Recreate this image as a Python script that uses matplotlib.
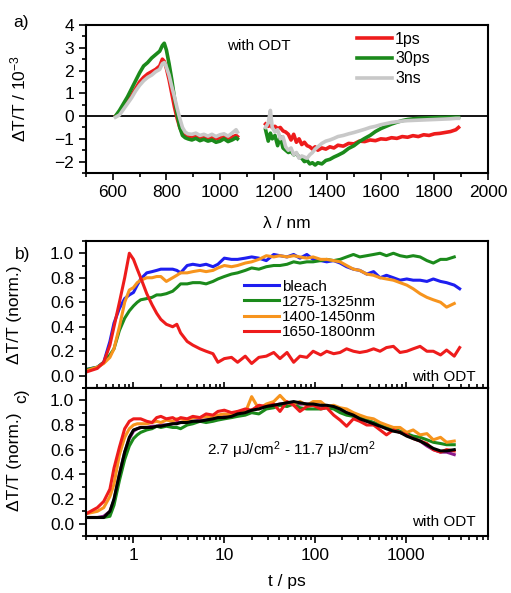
import matplotlib
matplotlib.use("Agg")
import matplotlib.pyplot as plt
from matplotlib.ticker import MultipleLocator, LogLocator, NullFormatter, FixedLocator
import numpy as np

plt.rcParams['font.family'] = ['Liberation Sans', 'DejaVu Sans']
plt.rcParams['mathtext.fontset'] = 'custom'
plt.rcParams['mathtext.rm'] = 'Liberation Sans'
plt.rcParams['mathtext.it'] = 'Liberation Sans:italic'

# ---- panel a: spectra (dT/T in 1e-3) ----
lam_vis = [610, 625, 640, 655, 670, 685, 700, 715, 730, 745, 760, 775, 785, 792, 800, 810, 820,
           830, 840, 850, 860, 870, 880, 895, 910, 925, 940, 955, 970, 985, 1000, 1015, 1030,
           1045, 1060, 1065]
vis_1ps = [0.0, 0.15, 0.4, 0.65, 0.9, 1.2, 1.5, 1.7, 1.85, 1.95, 2.05, 2.2, 2.5, 2.4, 2.1, 1.6, 1.0,
           0.4, -0.1, -0.5, -0.75, -0.85, -0.9, -0.95, -0.88, -0.95, -0.9, -0.98, -0.92, -1.0, -0.95,
           -0.9, -1.0, -0.92, -0.85, -0.9]
vis_30ps = [0.0, 0.25, 0.55, 0.85, 1.2, 1.55, 1.9, 2.2, 2.35, 2.55, 2.7, 2.85, 3.1, 3.2, 2.9, 2.3, 1.6,
            0.8, 0.1, -0.5, -0.85, -0.95, -1.0, -1.05, -0.98, -1.08, -1.02, -1.1, -1.05, -1.15, -1.1,
            -1.0, -1.12, -1.05, -0.95, -1.0]
vis_3ns = [-0.05, 0.05, 0.3, 0.55, 0.8, 1.1, 1.35, 1.55, 1.7, 1.8, 1.95, 2.05, 2.3, 2.35, 2.15, 1.8, 1.3,
           0.85, 0.35, -0.1, -0.5, -0.7, -0.78, -0.8, -0.75, -0.85, -0.8, -0.88, -0.8, -0.9, -0.82,
           -0.78, -0.88, -0.75, -0.6, -0.7]

lam_ir = [1170, 1180, 1188, 1195, 1205, 1215, 1225, 1235, 1245, 1255, 1265, 1275, 1285, 1295, 1305,
          1315, 1325, 1335, 1345, 1355, 1365, 1380, 1395, 1410, 1425, 1440, 1460, 1480, 1500, 1520,
          1540, 1560, 1580, 1600, 1620, 1640, 1660, 1680, 1700, 1720, 1740, 1760, 1780, 1800, 1820,
          1840, 1860, 1880, 1890]
ir_1ps = [-0.35, -0.45, -0.4, -0.5, -0.45, -0.55, -0.5, -0.65, -0.7, -0.8, -1.05, -0.8, -1.15, -1.0,
          -1.25, -1.15, -1.3, -1.35, -1.45, -1.35, -1.5, -1.4, -1.45, -1.35, -1.4, -1.28, -1.32, -1.2,
          -1.22, -1.1, -1.12, -1.05, -1.08, -1.0, -1.02, -0.95, -0.98, -0.9, -0.93, -0.86, -0.9, -0.82,
          -0.85, -0.78, -0.76, -0.72, -0.68, -0.6, -0.5]
ir_30ps = [-0.6, -1.1, -0.75, -1.0, -0.85, -1.3, -0.9, -1.4, -1.5, -1.6, -1.55, -1.7, -1.65, -1.8,
           -1.85, -2.0, -1.95, -2.1, -2.05, -2.15, -2.05, -2.1, -1.95, -1.9, -1.8, -1.72, -1.6, -1.42,
           -1.3, -1.12, -0.98, -0.85, -0.68, -0.55, -0.45, -0.35, -0.27, -0.2, -0.15, -0.12, -0.1,
           -0.09, -0.08, -0.07, -0.06, -0.06, -0.05, -0.05, -0.05]
ir_3ns = [-0.5, -0.3, 0.25, -0.5, -0.7, -0.6, -1.0, -0.9, -1.35, -1.5, -1.4, -1.7, -1.6, -1.85, -1.75,
          -1.8, -1.85, -1.7, -1.6, -1.45, -1.35, -1.2, -1.1, -1.05, -0.98, -0.9, -0.85, -0.78, -0.72,
          -0.65, -0.58, -0.5, -0.45, -0.38, -0.33, -0.28, -0.25, -0.22, -0.2, -0.19, -0.18, -0.17,
          -0.16, -0.15, -0.14, -0.13, -0.12, -0.1, -0.1]

# ---- panels b, c: kinetics (normalised) ----
t = [0.3, 0.4, 0.47, 0.55, 0.61, 0.7, 0.8, 0.9, 1.0, 1.1, 1.2, 1.4, 1.6, 1.8, 2.0, 2.3, 2.7, 3.0, 3.3,
     3.9, 4.5, 5.4, 6.3, 7.5, 8.5, 10, 12, 14, 17, 20, 24, 29, 35, 41, 49, 58, 68, 81, 95, 115, 134,
     160, 188, 222, 264, 310, 370, 440, 518, 610, 727, 860, 1020, 1200, 1430, 1700, 2000, 2400, 2800,
     3400]
t_long = t + [3900]

bleach = [0.05, 0.07, 0.11, 0.28, 0.43, 0.55, 0.63, 0.66, 0.68, 0.74, 0.79, 0.84, 0.85, 0.86, 0.87,
          0.87, 0.87, 0.86, 0.84, 0.90, 0.91, 0.90, 0.91, 0.89, 0.91, 0.96, 0.95, 0.95, 0.96, 0.97,
          0.96, 0.94, 0.99, 0.98, 0.97, 0.99, 0.96, 0.99, 0.95, 0.94, 0.93, 0.94, 0.92, 0.89, 0.87,
          0.86, 0.83, 0.85, 0.80, 0.82, 0.80, 0.78, 0.79, 0.78, 0.78, 0.77, 0.79, 0.77, 0.76, 0.74,
          0.71]
band_1275 = [0.05, 0.07, 0.11, 0.17, 0.22, 0.37, 0.47, 0.53, 0.57, 0.60, 0.62, 0.63, 0.64, 0.66, 0.66,
             0.67, 0.69, 0.72, 0.75, 0.75, 0.76, 0.76, 0.75, 0.77, 0.79, 0.81, 0.83, 0.84, 0.86, 0.88,
             0.87, 0.89, 0.90, 0.90, 0.91, 0.93, 0.92, 0.93, 0.93, 0.94, 0.95, 0.94, 0.95, 0.97, 0.99,
             0.97, 0.98, 0.99, 1.0, 0.98, 1.0, 0.98, 0.97, 0.98, 0.97, 0.94, 0.92, 0.95, 0.95, 0.97]
band_1400 = [0.04, 0.07, 0.10, 0.15, 0.22, 0.40, 0.60, 0.70, 0.72, 0.76, 0.78, 0.80, 0.80, 0.81, 0.81,
             0.77, 0.80, 0.82, 0.84, 0.84, 0.85, 0.86, 0.85, 0.86, 0.88, 0.90, 0.89, 0.90, 0.92, 0.93,
             0.95, 0.98, 0.97, 0.98, 0.97, 0.98, 0.97, 0.96, 0.97, 0.95, 0.95, 0.94, 0.93, 0.90, 0.87,
             0.86, 0.83, 0.82, 0.80, 0.79, 0.78, 0.76, 0.74, 0.71, 0.67, 0.64, 0.62, 0.60, 0.56, 0.59]
band_1650 = [0.03, 0.06, 0.11, 0.25, 0.40, 0.60, 0.80, 1.0, 0.95, 0.87, 0.80, 0.67, 0.58, 0.51, 0.46,
             0.42, 0.40, 0.42, 0.35, 0.28, 0.25, 0.22, 0.20, 0.18, 0.11, 0.14, 0.15, 0.11, 0.16, 0.10,
             0.15, 0.16, 0.19, 0.14, 0.19, 0.11, 0.16, 0.15, 0.20, 0.17, 0.20, 0.18, 0.19, 0.22, 0.20,
             0.19, 0.20, 0.22, 0.20, 0.23, 0.24, 0.19, 0.20, 0.22, 0.24, 0.20, 0.20, 0.17, 0.21, 0.16,
             0.23]

fl_black = [0.05, 0.05, 0.05, 0.10, 0.20, 0.40, 0.58, 0.70, 0.76, 0.77, 0.78, 0.78, 0.78, 0.79, 0.79,
            0.80, 0.81, 0.81, 0.82, 0.82, 0.83, 0.83, 0.84, 0.85, 0.86, 0.86, 0.87, 0.89, 0.90, 0.92,
            0.93, 0.95, 0.96, 0.97, 0.98, 0.99, 0.98, 0.97, 0.97, 0.96, 0.96, 0.95, 0.93, 0.90, 0.88,
            0.85, 0.83, 0.81, 0.79, 0.77, 0.75, 0.74, 0.71, 0.69, 0.67, 0.64, 0.61, 0.59, 0.59, 0.60]
fl_red = [0.08, 0.13, 0.18, 0.28, 0.45, 0.62, 0.77, 0.83, 0.85, 0.85, 0.85, 0.83, 0.82, 0.86, 0.87,
          0.85, 0.86, 0.84, 0.86, 0.85, 0.87, 0.86, 0.89, 0.88, 0.91, 0.92, 0.90, 0.91, 0.93, 0.92,
          0.96, 0.95, 0.97, 0.91, 0.99, 0.96, 0.91, 0.95, 0.96, 0.93, 0.94, 0.88, 0.84, 0.79, 0.85,
          0.83, 0.80, 0.80, 0.76, 0.72, 0.76, 0.74, 0.72, 0.69, 0.67, 0.65, 0.60, 0.58, 0.60, 0.59]
fl_orange = [0.08, 0.10, 0.13, 0.22, 0.32, 0.56, 0.70, 0.77, 0.80, 0.81, 0.81, 0.81, 0.82, 0.83, 0.82,
             0.84, 0.83, 0.85, 0.85, 0.84, 0.86, 0.86, 0.87, 0.86, 0.88, 0.89, 0.88, 0.91, 0.90, 1.03,
             0.93, 0.97, 0.99, 1.04, 0.98, 0.97, 0.99, 0.96, 0.99, 0.99, 0.95, 0.96, 0.94, 0.93, 0.90,
             0.88, 0.86, 0.85, 0.82, 0.80, 0.78, 0.78, 0.74, 0.76, 0.72, 0.73, 0.68, 0.70, 0.66, 0.67]
fl_green = [0.05, 0.05, 0.05, 0.06, 0.15, 0.35, 0.52, 0.63, 0.69, 0.72, 0.74, 0.76, 0.77, 0.79, 0.78,
            0.79, 0.78, 0.78, 0.77, 0.80, 0.81, 0.83, 0.82, 0.83, 0.84, 0.85, 0.86, 0.87, 0.88, 0.90,
            0.89, 0.93, 0.94, 0.96, 0.95, 0.97, 0.94, 0.93, 0.93, 0.93, 0.94, 0.93, 0.90, 0.88, 0.87,
            0.86, 0.84, 0.82, 0.80, 0.78, 0.77, 0.75, 0.73, 0.71, 0.70, 0.68, 0.66, 0.65, 0.64, 0.64]
fl_purple = [0.05, 0.05, 0.06, 0.10, 0.19, 0.40, 0.58, 0.69, 0.75, 0.77, 0.78, 0.78, 0.79, 0.79, 0.80,
             0.80, 0.81, 0.82, 0.82, 0.83, 0.83, 0.84, 0.84, 0.85, 0.86, 0.87, 0.88, 0.89, 0.91, 0.92,
             0.94, 0.95, 0.96, 0.97, 0.97, 0.98, 0.97, 0.97, 0.96, 0.96, 0.95, 0.94, 0.92, 0.90, 0.88,
             0.86, 0.83, 0.82, 0.80, 0.77, 0.76, 0.74, 0.72, 0.70, 0.67, 0.63, 0.60, 0.58, 0.58, 0.56]

RED = '#ee1c1c'
GREEN = '#1b8a1b'
GRAY = '#c8c8c8'
BLUE = '#1e1ef0'
ORANGE = '#f7941d'
PURPLE = '#8b1a8b'

fig = plt.figure(figsize=(5.11, 5.93), dpi=100)
W, H = 511, 593

def add_ax(x0, y0, x1, y1):
    # pixel box -> figure fraction
    return fig.add_axes([x0 / W, 1 - y1 / H, (x1 - x0) / W, (y1 - y0) / H])

ax_a = add_ax(86, 25, 488, 173)
ax_b = add_ax(86, 241, 488, 388)
ax_c = add_ax(86, 388, 488, 536)

for ax in (ax_a, ax_b, ax_c):
    for s in ax.spines.values():
        s.set_linewidth(1.5)
    ax.tick_params(which='both', direction='out', width=1.2, labelsize=12.5, top=False, right=False)
    ax.tick_params(which='major', length=5)
    ax.tick_params(which='minor', length=3)

# panel a
lw = 2.6
ax_a.axhline(0, color='black', lw=1.3, zorder=1)
ax_a.plot(lam_vis, vis_1ps, color=RED, lw=lw, label='1ps')
ax_a.plot(lam_vis, vis_30ps, color=GREEN, lw=lw, label='30ps')
ax_a.plot(lam_vis, vis_3ns, color=GRAY, lw=lw, label='3ns')
ax_a.plot(lam_ir, ir_1ps, color=RED, lw=lw)
ax_a.plot(lam_ir, ir_30ps, color=GREEN, lw=lw)
ax_a.plot(lam_ir, ir_3ns, color=GRAY, lw=lw)
ax_a.set_xlim(500, 2000)
ax_a.set_ylim(-2.5, 4)
ax_a.xaxis.set_minor_locator(MultipleLocator(100))
ax_a.set_xticks([600, 800, 1000, 1200, 1400, 1600, 1800, 2000])
ax_a.yaxis.set_major_locator(MultipleLocator(1))
ax_a.yaxis.set_minor_locator(MultipleLocator(0.5))
ax_a.set_xlabel('λ / nm', fontsize=12.5, labelpad=12)
ax_a.set_ylabel('ΔT/T / 10$^{-3}$', fontsize=12.5)
ax_a.yaxis.set_label_coords(-0.144, 0.5)
ax_a.text(0.35, 0.83, 'with ODT', transform=ax_a.transAxes, fontsize=11)
ax_a.legend(loc='upper left', bbox_to_anchor=(0.65, 1.02), frameon=False, fontsize=11.5,
            handlelength=2.2, handletextpad=0.2, labelspacing=0.3, borderaxespad=0.2)

# panel b
ax_b.plot(t_long, bleach, color=BLUE, lw=2.2, label='bleach')
ax_b.plot(t, band_1275, color=GREEN, lw=2.2, label='1275-1325nm')
ax_b.plot(t, band_1400, color=ORANGE, lw=2.2, label='1400-1450nm')
ax_b.plot(t_long, band_1650, color=RED, lw=2.2, label='1650-1800nm')
ax_b.legend(loc='upper left', bbox_to_anchor=(0.37, 0.8), frameon=False, fontsize=11,
            handlelength=2.3, handletextpad=0.2, labelspacing=0.08, borderaxespad=0.2)
ax_b.text(0.97, 0.05, 'with ODT', transform=ax_b.transAxes, fontsize=11, ha='right')

# panel c
for vals, col in ((fl_purple, PURPLE), (fl_green, GREEN), (fl_orange, ORANGE), (fl_red, RED),
                  (fl_black, 'black')):
    ax_c.plot(t, vals, color=col, lw=2.2)
ax_c.text(0.51, 0.55, '2.7 μJ/cm$^2$ - 11.7 μJ/cm$^2$', transform=ax_c.transAxes, fontsize=11,
          ha='center')
ax_c.text(0.97, 0.07, 'with ODT', transform=ax_c.transAxes, fontsize=11, ha='right')

for ax in (ax_b, ax_c):
    ax.set_xscale('log')
    ax.set_xlim(0.3, 8000)
    ax.set_ylim(-0.1, 1.1)
    ax.xaxis.set_major_locator(FixedLocator([1, 10, 100, 1000]))
    ax.xaxis.set_minor_locator(LogLocator(base=10, subs=np.arange(2, 10), numticks=20))
    ax.xaxis.set_minor_formatter(NullFormatter())
    ax.yaxis.set_minor_locator(MultipleLocator(0.1))
    ax.set_yticks([0.0, 0.2, 0.4, 0.6, 0.8, 1.0])
    ax.yaxis.set_major_formatter(matplotlib.ticker.FormatStrFormatter('%.1f'))
    ax.set_ylabel('ΔT/T (norm.)', fontsize=12.5)
    ax.yaxis.set_label_coords(-0.16, 0.5)

ax_b.tick_params(axis='x', which='both', direction='inout', labelbottom=False)
ax_b.tick_params(axis='x', which='major', length=9)
ax_b.tick_params(axis='x', which='minor', length=6)
ax_c.xaxis.set_major_formatter(matplotlib.ticker.FormatStrFormatter('%d'))
ax_c.set_xlabel('t / ps', fontsize=12.5, labelpad=8)

fig.text(0.025, 0.955, 'a)', fontsize=12.5)
fig.text(0.03, 0.563, 'b)', fontsize=12.5)
fig.text(0.028, 0.325, 'c)', fontsize=12.5, rotation=90)

fig.savefig('out.png', dpi=100)
